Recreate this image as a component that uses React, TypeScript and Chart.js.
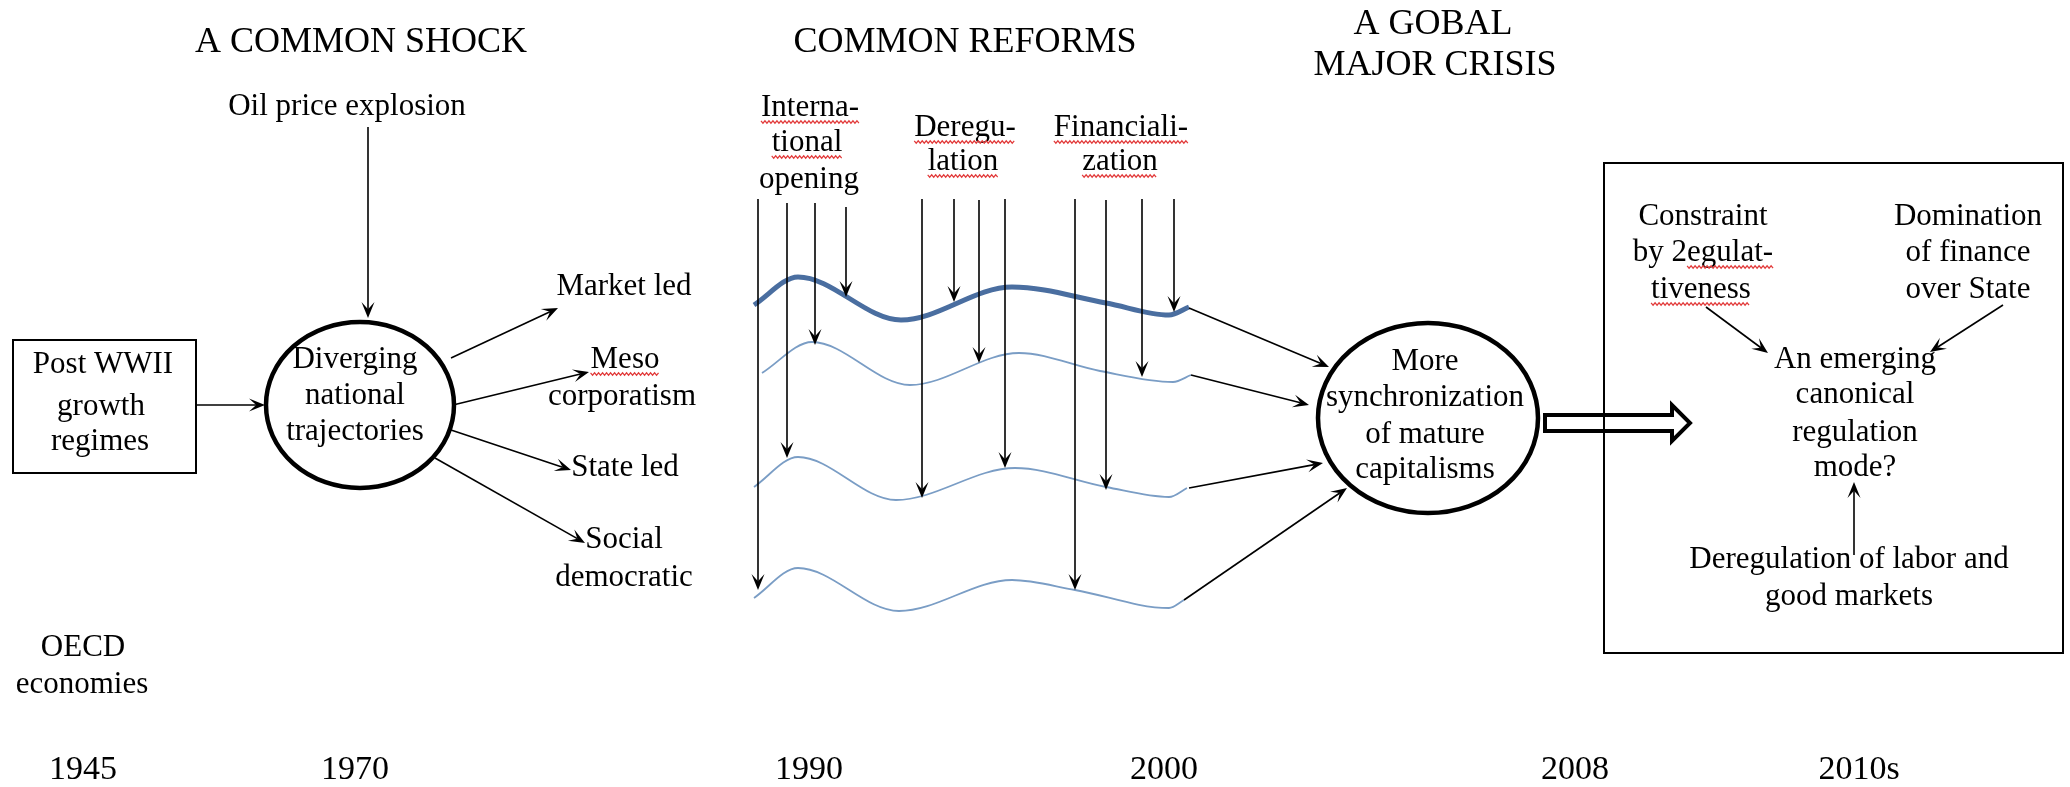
import React, { useEffect, useRef } from "react";
import { Chart, registerables } from "chart.js";

Chart.register(...registerables);

// ---- time axis (tick labels and their anchor positions on the diagram axis)
const yearLabels = ["1945", "1970", "1990", "2000", "2008", "2010s"];
const yearPos = [83, 355, 809, 1164, 1575, 1859];

// ---- trajectories (wavy series)
const lineMarket = [
  { x: 754, y: 305 }, { x: 798, y: 277 }, { x: 901, y: 320 }, { x: 1012, y: 287 },
  { x: 1106, y: 303 }, { x: 1169, y: 315 }, { x: 1189, y: 307 },
];
const lineMeso = [
  { x: 762, y: 373 }, { x: 812, y: 342 }, { x: 910, y: 385 }, { x: 1019, y: 353 },
  { x: 1100, y: 371 }, { x: 1173, y: 382 }, { x: 1191, y: 375 },
];
const lineState = [
  { x: 754, y: 487 }, { x: 798, y: 457 }, { x: 896, y: 500 }, { x: 1015, y: 468 },
  { x: 1106, y: 487 }, { x: 1169, y: 497 }, { x: 1187, y: 488 },
];
const lineSocial = [
  { x: 754, y: 598 }, { x: 798, y: 568 }, { x: 899, y: 611 }, { x: 1012, y: 580 },
  { x: 1075, y: 590 }, { x: 1169, y: 608 }, { x: 1184, y: 600 },
];

// ---- reform arrows (vertical): x, start, end
const reformX = [758, 787, 815, 846, 922, 954, 979, 1005, 1075, 1106, 1142, 1174];
const reformTop = [199, 203, 203, 207, 199, 199, 200, 199, 199, 200, 199, 199];
const reformEnd = [590, 458, 345, 297, 498, 302, 363, 468, 590, 490, 377, 312];

// ---- other arrows [x1, y1, x2, y2]
const arrows = [
  [368, 127, 368, 318],
  [196, 405, 265, 405],
  [451, 358, 558, 308],
  [453, 405, 589, 372],
  [451, 430, 571, 470],
  [435, 458, 585, 543],
  [1189, 308, 1329, 367],
  [1191, 375, 1309, 405],
  [1189, 488, 1323, 463],
  [1184, 600, 1347, 488],
  [1706, 307, 1768, 353],
  [2003, 305, 1930, 352],
  [1854, 555, 1854, 482],
];

// ---- ellipses [cx, cy, rx, ry]
const ellipses = [
  [360, 405, 94, 83],
  [1428, 418, 110, 95],
];

// ---- boxes [x1, y1, x2, y2]
const boxes = [
  [13, 340, 196, 473],
  [1604, 163, 2063, 653],
];

// ---- hollow block arrow outline
const blockArrow = [
  [1545, 415], [1672, 415], [1672, 405], [1690, 423], [1672, 441], [1672, 431], [1545, 431],
];

// ---- titles
const titles = [
  ["A COMMON SHOCK", 361, 43],
  ["COMMON REFORMS", 965, 43],
  ["A GOBAL", 1433, 25],
  ["MAJOR CRISIS", 1435, 66],
];

// ---- text labels [text, x, y, squiggleStart (-1 = none)]
const labels: [string, number, number, number][] = [
  ["Oil price explosion", 347, 107, -1],
  ["Post WWII", 103, 365, -1],
  ["growth", 101, 407, -1],
  ["regimes", 100, 442, -1],
  ["Diverging", 355, 360, -1],
  ["national", 355, 396, -1],
  ["trajectories", 355, 432, -1],
  ["Market led", 624, 287, -1],
  ["Meso", 625, 360, 0],
  ["corporatism", 622, 397, -1],
  ["State led", 625, 468, -1],
  ["Social", 624, 540, -1],
  ["democratic", 624, 578, -1],
  ["OECD", 83, 648, -1],
  ["economies", 82, 685, -1],
  ["Interna-", 810, 108, 0],
  ["tional", 807, 143, 0],
  ["opening", 809, 180, -1],
  ["Deregu-", 965, 128, 0],
  ["lation", 963, 162, 0],
  ["Financiali-", 1121, 128, 0],
  ["zation", 1120, 162, 0],
  ["More", 1425, 362, -1],
  ["synchronization", 1425, 398, -1],
  ["of mature", 1425, 435, -1],
  ["capitalisms", 1425, 470, -1],
  ["Constraint", 1703, 217, -1],
  ["by 2egulat-", 1703, 253, 4],
  ["tiveness", 1701, 290, 0],
  ["Domination", 1968, 217, -1],
  ["of finance", 1968, 253, -1],
  ["over State", 1968, 290, -1],
  ["An emerging", 1855, 360, -1],
  ["canonical", 1855, 395, -1],
  ["regulation", 1855, 433, -1],
  ["mode?", 1855, 468, -1],
  ["Deregulation of labor and", 1849, 560, -1],
  ["good markets", 1849, 597, -1],
];

const FONT = "'Liberation Serif', 'Times New Roman', serif";

function head(ctx: CanvasRenderingContext2D, x1: number, y1: number, x2: number, y2: number) {
  const a = Math.atan2(y2 - y1, x2 - x1);
  const dx = Math.cos(a), dy = Math.sin(a);
  const len = 16, half = 6.5, notch = 0.55;
  const bx = x2 - dx * len, by = y2 - dy * len;
  const nx = x2 - dx * len * notch, ny = y2 - dy * len * notch;
  ctx.beginPath();
  ctx.moveTo(x1, y1);
  ctx.lineTo(nx, ny);
  ctx.stroke();
  ctx.beginPath();
  ctx.moveTo(x2, y2);
  ctx.lineTo(bx - dy * half, by + dx * half);
  ctx.lineTo(nx, ny);
  ctx.lineTo(bx + dy * half, by - dx * half);
  ctx.closePath();
  ctx.fill();
}

const diagramPlugin = {
  id: "diagram",
  afterDatasetsDraw(chart: any) {
    const { ctx, scales } = chart;
    const X = (v: number) => scales.x.getPixelForValue(v);
    const Y = (v: number) => scales.y.getPixelForValue(v);
    ctx.save();
    ctx.strokeStyle = "#000";
    ctx.fillStyle = "#000";
    ctx.lineCap = "butt";

    // boxes
    ctx.lineWidth = 2;
    boxes.forEach(([x1, y1, x2, y2]) => {
      ctx.strokeRect(X(x1), Y(y1), X(x2) - X(x1), Y(y2) - Y(y1));
    });

    // ellipses
    ctx.lineWidth = 4.5;
    ellipses.forEach(([cx, cy, rx, ry]) => {
      ctx.beginPath();
      ctx.ellipse(X(cx), Y(cy), Math.abs(X(cx + rx) - X(cx)), Math.abs(Y(cy + ry) - Y(cy)), 0, 0, Math.PI * 2);
      ctx.stroke();
    });

    // block arrow
    ctx.lineWidth = 4;
    ctx.lineJoin = "miter";
    ctx.beginPath();
    blockArrow.forEach(([x, y], i) => (i ? ctx.lineTo(X(x), Y(y)) : ctx.moveTo(X(x), Y(y))));
    ctx.closePath();
    ctx.stroke();

    // arrows
    ctx.lineWidth = 1.6;
    reformX.forEach((x, i) => head(ctx, X(x), Y(reformTop[i]), X(x), Y(reformEnd[i])));
    arrows.forEach(([x1, y1, x2, y2]) => head(ctx, X(x1), Y(y1), X(x2), Y(y2)));

    // titles
    ctx.textAlign = "center";
    ctx.textBaseline = "middle";
    ctx.font = `36px ${FONT}`;
    titles.forEach(([t, x, y]) => ctx.fillText(t as string, X(x as number), Y(y as number)));

    // labels
    ctx.font = `31px ${FONT}`;
    labels.forEach(([t, x, y, sq]) => {
      const px = X(x), py = Y(y);
      ctx.fillStyle = "#000";
      ctx.fillText(t, px, py);
      if (sq >= 0) {
        const w = ctx.measureText(t).width;
        const x0 = px - w / 2 + ctx.measureText(t.slice(0, sq)).width;
        const x1 = px + w / 2;
        const yy = py + 14;
        ctx.save();
        ctx.strokeStyle = "#e23b3b";
        ctx.lineWidth = 1.2;
        ctx.beginPath();
        let k = 0;
        for (let xx = x0; xx <= x1; xx += 2) {
          const yv = yy + (k % 2 === 0 ? -1.2 : 1.2);
          if (k === 0) ctx.moveTo(xx, yv); else ctx.lineTo(xx, yv);
          k++;
        }
        ctx.stroke();
        ctx.restore();
      }
    });
    ctx.restore();
  },
};

export default function App() {
  const ref = useRef<HTMLCanvasElement | null>(null);
  useEffect(() => {
    document.body.style.margin = "0";
    Chart.defaults.font.family = FONT;
    const mk = (data: any[], w: number, c: string) => ({
      data,
      borderColor: c,
      borderWidth: w,
      pointRadius: 0,
      fill: false,
      cubicInterpolationMode: "monotone" as const,
      clip: false as any,
    });
    const chart = new Chart(ref.current as HTMLCanvasElement, {
      type: "line",
      data: {
        datasets: [
          mk(lineMarket, 5, "#4a6ea0"),
          mk(lineMeso, 1.8, "#7a9dc5"),
          mk(lineState, 1.8, "#7a9dc5"),
          mk(lineSocial, 1.8, "#7a9dc5"),
        ],
      },
      options: {
        animation: false,
        responsive: false,
        events: [],
        layout: { padding: 0 },
        plugins: { legend: { display: false }, tooltip: { enabled: false }, title: { display: false } },
        scales: {
          x: {
            type: "linear",
            min: 0,
            max: 2070,
            grid: { display: false, drawTicks: false },
            border: { display: false },
            afterBuildTicks: (axis: any) => {
              axis.ticks = yearPos.map((v) => ({ value: v }));
            },
            afterFit: (axis: any) => {
              axis.height = 42;
            },
            ticks: {
              autoSkip: false,
              maxRotation: 0,
              padding: 5,
              color: "#000",
              font: { size: 34, family: FONT },
              callback: (v: any) => {
                const i = yearPos.indexOf(Number(v));
                return i >= 0 ? yearLabels[i] : "";
              },
            },
          },
          y: { type: "linear", min: 0, max: 745, reverse: true, display: false },
        },
      },
      plugins: [diagramPlugin],
    });
    return () => chart.destroy();
  }, []);
  return (
    <div style={{ width: 2070, height: 787 }}>
      <canvas ref={ref} width={2070} height={787} style={{ display: "block" }} />
    </div>
  );
}
